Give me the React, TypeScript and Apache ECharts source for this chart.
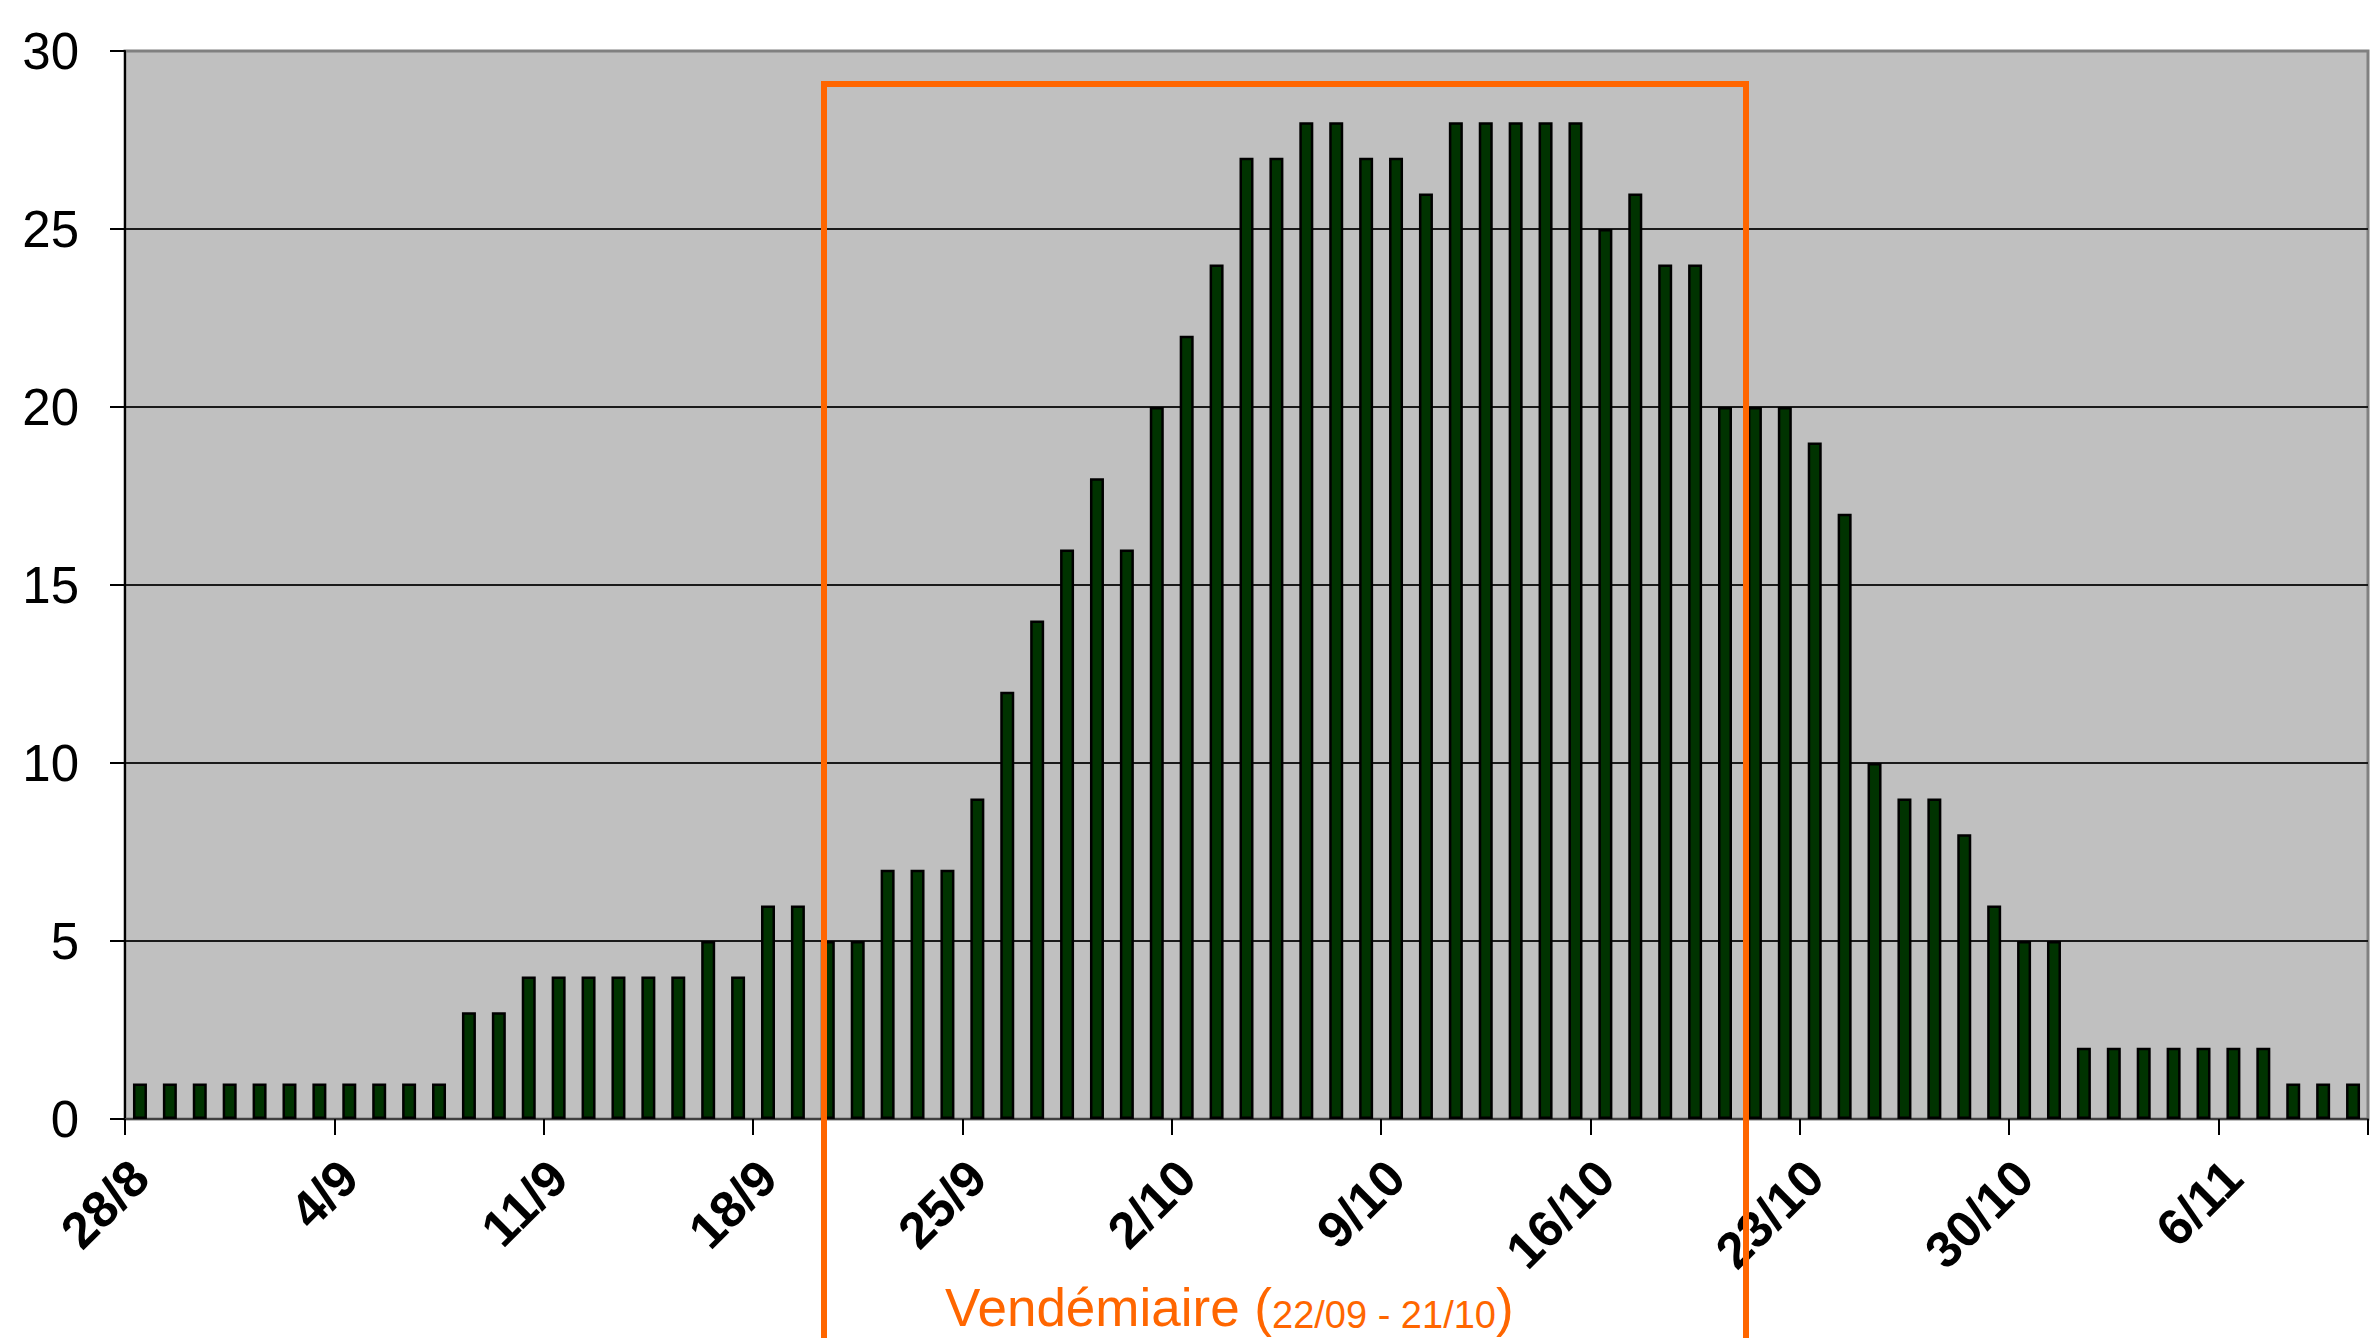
import React, { useEffect, useRef } from 'react';
import * as echarts from 'echarts';

const categories = [
  '28/8', '29/8', '30/8', '31/8',
  '1/9', '2/9', '3/9', '4/9', '5/9', '6/9', '7/9', '8/9', '9/9', '10/9',
  '11/9', '12/9', '13/9', '14/9', '15/9', '16/9', '17/9', '18/9', '19/9', '20/9',
  '21/9', '22/9', '23/9', '24/9', '25/9', '26/9', '27/9', '28/9', '29/9', '30/9',
  '1/10', '2/10', '3/10', '4/10', '5/10', '6/10', '7/10', '8/10', '9/10', '10/10',
  '11/10', '12/10', '13/10', '14/10', '15/10', '16/10', '17/10', '18/10', '19/10', '20/10',
  '21/10', '22/10', '23/10', '24/10', '25/10', '26/10', '27/10', '28/10', '29/10', '30/10',
  '31/10', '1/11', '2/11', '3/11', '4/11', '5/11', '6/11', '7/11', '8/11', '9/11', '10/11',
];

const counts = [
  1, 1, 1, 1, 1, 1, 1, 1, 1, 1, 1,
  3, 3, 4, 4, 4, 4, 4, 4, 5, 4, 6, 6, 5, 5,
  7, 7, 7, 9, 12, 14, 16, 18, 16, 20, 22, 24,
  27, 27, 28, 28, 27, 27, 26, 28, 28, 28, 28, 28,
  25, 26, 24, 24, 20, 20, 20, 19, 17, 10, 9, 9, 8, 6, 5, 5,
  2, 2, 2, 2, 2, 2, 2, 1, 1, 1,
];

const periodName = 'Vendémiaire';
const periodRange = '22/09 - 21/10';

const FONT = '"Liberation Sans", Arial, Helvetica, sans-serif';

export default function App() {
  const ref = useRef<HTMLDivElement>(null);

  useEffect(() => {
    const chart = echarts.init(ref.current!, null, { renderer: 'svg' });
    chart.setOption({
      animation: false,
      backgroundColor: '#ffffff',
      grid: {
        left: 125,
        right: 4,
        top: 51,
        bottom: 219,
        show: true,
        backgroundColor: '#C0C0C0',
        borderColor: '#808080',
        borderWidth: 3,
      },
      xAxis: {
        type: 'category',
        data: categories,
        boundaryGap: true,
        axisLine: { show: true, lineStyle: { color: '#404040', width: 2 } },
        axisTick: { show: true, interval: 6, length: 16, lineStyle: { color: '#000', width: 2 } },
        axisLabel: {
          interval: 6,
          rotate: 45,
          margin: 50,
          fontSize: 51,
          fontWeight: 'bold',
          fontFamily: FONT,
          color: '#000',
        },
        splitLine: { show: false },
      },
      yAxis: {
        type: 'value',
        min: 0,
        max: 30,
        interval: 5,
        axisLine: { show: true, lineStyle: { color: '#000', width: 2 } },
        axisTick: { show: true, length: 15, lineStyle: { color: '#000', width: 2 } },
        axisLabel: {
          margin: 46,
          fontSize: 51,
          fontFamily: FONT,
          color: '#000',
        },
        splitLine: {
          show: true,
          lineStyle: {
            color: ['#1a1a1a', '#1a1a1a', '#1a1a1a', '#1a1a1a', '#1a1a1a', '#1a1a1a', '#808080'],
            width: 2,
          },
        },
      },
      series: [
        {
          type: 'bar',
          data: counts,
          barWidth: 14,
          itemStyle: { color: '#003300', borderColor: '#000', borderWidth: 2.5 },
          z: 2,
        },
      ],
      graphic: [
        {
          type: 'rect',
          z: 100,
          silent: true,
          shape: { x: 824, y: 84, width: 922, height: 1400 },
          style: { fill: 'none', stroke: '#FF6600', lineWidth: 6 },
        },
        {
          type: 'text',
          z: 100,
          silent: true,
          x: 945,
          y: 1334,
          style: {
            text: `{a|${periodName} (}{b|${periodRange}}{a|)}`,
            verticalAlign: 'bottom',
            align: 'left',
            rich: {
              a: { fontSize: 53, fontFamily: FONT, fill: '#FF6600', verticalAlign: 'bottom', lineHeight: 52 },
              b: { fontSize: 38, fontFamily: FONT, fill: '#FF6600', verticalAlign: 'bottom', lineHeight: 42 },
            },
          },
        },
      ],
    });
    return () => chart.dispose();
  }, []);

  return (
    <div
      ref={ref}
      style={{ position: 'fixed', left: 0, top: 0, width: 2372, height: 1338, background: '#fff' }}
    />
  );
}
